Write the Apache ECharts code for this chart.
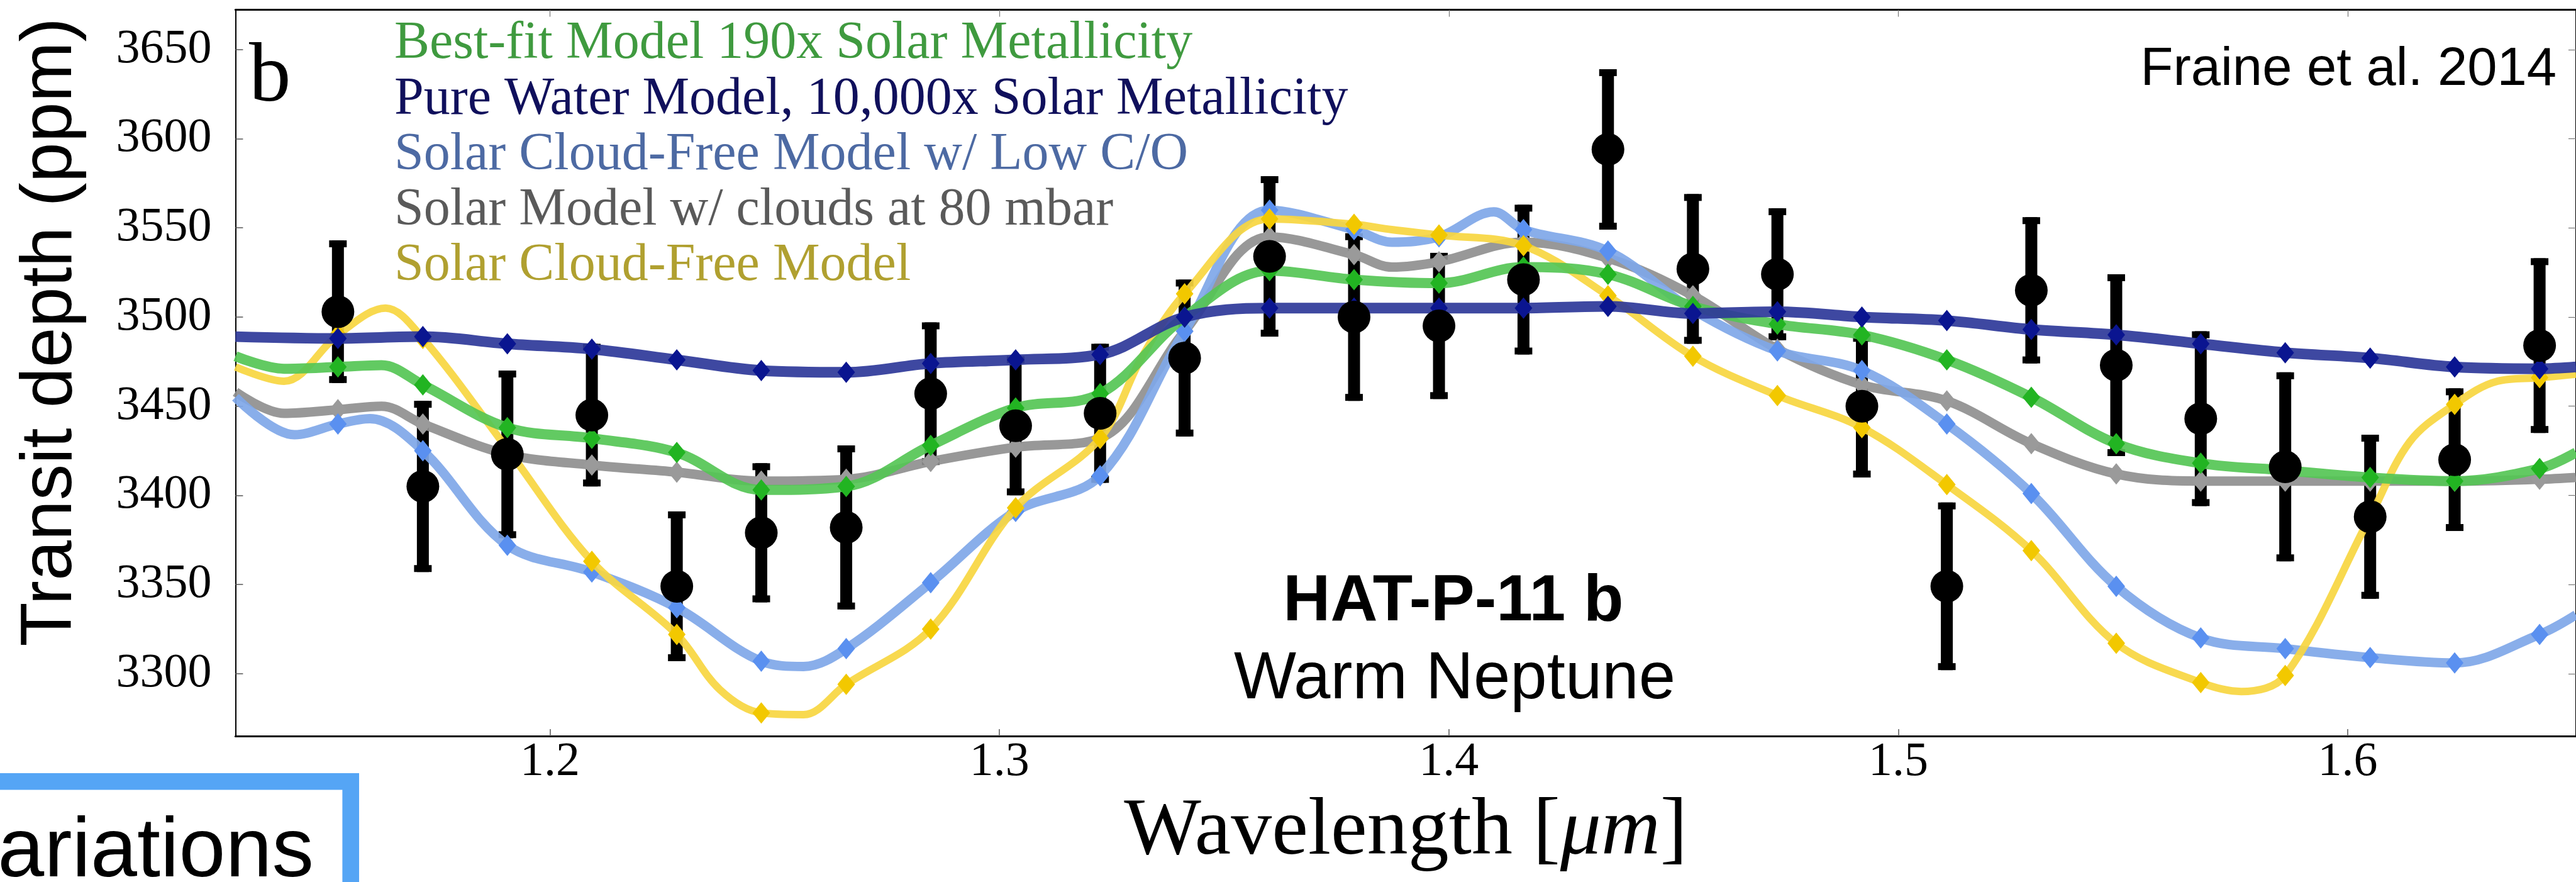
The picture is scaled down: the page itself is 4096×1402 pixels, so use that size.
<!DOCTYPE html>
<html>
<head>
<meta charset="utf-8">
<script src="https://cdn.jsdelivr.net/npm/echarts@6/dist/echarts.min.js"></script>
<style>html,body{margin:0;padding:0;background:#fff;}#c{width:4096px;height:1402px;}</style>
</head>
<body>
<div id="c"></div>
<script>
// ---------- data ----------
const wavelengths = [1.1528, 1.1717, 1.1905, 1.2093, 1.2282, 1.2470, 1.2659, 1.2847, 1.3036, 1.3224, 1.3412, 1.3601, 1.3789, 1.3978, 1.4166, 1.4354, 1.4543, 1.4731, 1.4919, 1.5108, 1.5296, 1.5485, 1.5673, 1.5861, 1.6050, 1.6238, 1.6427];
const transitDepth = [3503, 3405, 3423, 3445, 3349, 3379, 3382, 3457, 3439, 3446, 3477, 3534, 3500, 3495, 3521, 3594, 3527, 3524, 3450, 3349, 3515, 3473, 3443, 3416, 3388, 3420, 3484];
const depthError = [40, 48, 47, 40, 42, 39, 46, 40, 39, 39, 44, 45, 47, 41, 42, 45, 42, 37, 40, 47, 41, 51, 49, 53, 46, 40, 49];

const bestFitModel = [3472, 3462, 3438, 3432, 3424, 3403, 3405, 3428, 3449, 3457, 3500, 3526, 3521, 3519, 3528, 3524, 3506, 3496, 3490, 3476, 3455, 3429, 3418, 3414, 3410, 3408, 3415];
const pureWaterModel = [3488, 3489, 3485, 3482, 3476, 3470, 3469, 3474, 3476, 3479, 3500, 3505, 3505, 3505, 3505, 3506, 3502, 3503, 3500, 3498, 3493, 3490, 3485, 3480, 3477, 3472, 3471];
const lowCOModel = [3440, 3425, 3372, 3357, 3337, 3307, 3314, 3351, 3391, 3411, 3492, 3560, 3549, 3545, 3549, 3537, 3504, 3481, 3470, 3440, 3401, 3349, 3320, 3314, 3309, 3306, 3322];
const cloudsModel = [3448, 3440, 3423, 3417, 3413, 3408, 3409, 3419, 3427, 3432, 3492, 3545, 3535, 3531, 3542, 3533, 3512, 3482, 3462, 3453, 3429, 3412, 3408, 3408, 3408, 3408, 3409];
const cloudFreeModel = [3490, 3488, 3426, 3363, 3322, 3278, 3294, 3325, 3393, 3432, 3513, 3555, 3552, 3546, 3540, 3512, 3478, 3456, 3438, 3406, 3369, 3317, 3295, 3299, 3388, 3451, 3466];

// model curve points between the bins
const bestFitExtra = [[1.1300, 3478], [1.1408, 3471], [1.1625, 3473], [1.6508, 3424]];
const pureWaterExtra = [[1.1300, 3489], [1.6508, 3472]];
const lowCOExtra = [[1.1300, 3455], [1.1431, 3434], [1.1599, 3443], [1.2564, 3304], [1.3873, 3542], [1.4100, 3559], [1.6508, 3333]];
const cloudsExtra = [[1.1300, 3458], [1.1408, 3446], [1.1625, 3450], [1.3873, 3528], [1.6508, 3410]];
const cloudFreeExtra = [[1.1300, 3472], [1.1408, 3464], [1.1634, 3505], [1.2378, 3291], [1.2564, 3277], [1.3318, 3478], [1.3873, 3549], [1.5763, 3290], [1.6138, 3430], [1.6333, 3464], [1.6508, 3468]];

const modelNames = ['Best-fit Model 190x Solar Metallicity', 'Pure Water Model, 10,000x Solar Metallicity', 'Solar Cloud-Free Model w/ Low C/O', 'Solar Model w/ clouds at 80 mbar', 'Solar Cloud-Free Model'];
const xTickValues = [1.2, 1.3, 1.4, 1.5, 1.6];
const yTickValues = [3300, 3350, 3400, 3450, 3500, 3550, 3600, 3650];
const xAxisTitle = 'Wavelength [{i|μm}]';
const yAxisTitle = 'Transit depth (ppm)';
const planetName = 'HAT-P-11 b';
const planetType = 'Warm Neptune';
const citation = 'Fraine et al. 2014';
const panelLetter = 'b';
const boxText = 'ariations';

// ---------- styles ----------
const SERIF = "'Liberation Serif', 'DejaVu Serif', serif";
const SANS = "'Liberation Sans', Arial, sans-serif";
const lineColors = ['#55c655', '#2e3899', '#7fa7e8', '#8f8f8f', '#f7d640'];
const diamondColors = ['#22b422', '#0a1590', '#5a90f0', '#9a9a9a', '#f2c800'];
const legendColors = ['#3f9a3f', '#10105c', '#4d6aa3', '#5a5a5a', '#b0a030'];
const lineWidths = [16, 17, 15, 15, 12];
const zOrder = [6, 7, 4, 3, 5];

function curve(bins, extra) {
  const pts = wavelengths.map((w, i) => ({ value: [w, bins[i]], symbol: 'diamond' }));
  extra.forEach(p => pts.push({ value: p, symbol: 'none' }));
  pts.sort((a, b) => a.value[0] - b.value[0]);
  return pts;
}
const modelBins = [bestFitModel, pureWaterModel, lowCOModel, cloudsModel, cloudFreeModel];
const modelExtras = [bestFitExtra, pureWaterExtra, lowCOExtra, cloudsExtra, cloudFreeExtra];

const X_MIN = 1.13, X_MAX = 1.6508, Y_MIN = 3265, Y_MAX = 3672.3;

const modelSeries = modelNames.map((name, k) => ({
  name: name,
  type: 'line',
  data: curve(modelBins[k], modelExtras[k]),
  smooth: 0.35,
  symbol: 'none',
  symbolSize: [28, 34],
  showAllSymbol: true,
  lineStyle: { color: lineColors[k], width: lineWidths[k], opacity: 0.92 },
  itemStyle: { color: diamondColors[k], opacity: 1 },
  z: zOrder[k],
  silent: true,
  clip: true
}));

function renderErr(params, api) {
  const x = api.value(0), lo = api.value(1), hi = api.value(2);
  const pHi = api.coord([x, hi]);
  const pLo = api.coord([x, lo]);
  const w = 19, cw = 28, ch = 11;
  return {
    type: 'group',
    children: [
      { type: 'rect', shape: { x: pHi[0] - w / 2, y: pHi[1], width: w, height: pLo[1] - pHi[1] }, style: { fill: '#000' } },
      { type: 'rect', shape: { x: pHi[0] - cw / 2, y: pHi[1], width: cw, height: ch }, style: { fill: '#000' } },
      { type: 'rect', shape: { x: pLo[0] - cw / 2, y: pLo[1] - ch, width: cw, height: ch }, style: { fill: '#000' } }
    ]
  };
}

const chart = echarts.init(document.getElementById('c'), null, { renderer: 'canvas' });
const option = {
  animation: false,
  backgroundColor: '#ffffff',
  grid: { left: 374.4, top: 15.6, right: -4, bottom: 232 },
  legend: {
    orient: 'vertical', left: 622, top: 26, padding: 0, itemGap: 0,
    itemWidth: 0, itemHeight: 0, icon: 'none', selectedMode: false,
    textStyle: { fontFamily: SERIF, fontSize: 84, lineHeight: 88.3 },
    data: modelNames.map((n, i) => ({ name: n, icon: 'none', textStyle: { color: legendColors[i], fontFamily: SERIF, fontSize: 84, lineHeight: 88.3 } }))
  },
  xAxis: [
    {
      type: 'value', position: 'bottom', min: X_MIN, max: X_MAX,
      name: xAxisTitle, nameLocation: 'middle', nameGap: 88,
      nameTextStyle: { fontFamily: SERIF, fontSize: 130, lineHeight: 130, color: '#000',
        rich: { i: { fontFamily: SERIF, fontStyle: 'italic', fontSize: 130, lineHeight: 130, color: '#000' } } },
      axisLine: { show: true, lineStyle: { color: '#000', width: 3 } },
      axisTick: { show: true, inside: true, length: 11, customValues: xTickValues, lineStyle: { color: '#555', width: 1.5 } },
      axisLabel: { show: true, customValues: xTickValues, margin: 4, fontFamily: SERIF, fontSize: 76, color: '#000',
        formatter: v => Number(v).toFixed(1) },
      splitLine: { show: false }
    },
    {
      type: 'value', position: 'top', min: X_MIN, max: X_MAX,
      axisLine: { show: true, lineStyle: { color: '#000', width: 3 } },
      axisTick: { show: true, inside: true, length: 11, customValues: xTickValues, lineStyle: { color: '#777', width: 1.2 } },
      axisLabel: { show: false },
      splitLine: { show: false }
    }
  ],
  yAxis: [
    {
      type: 'value', position: 'left', min: Y_MIN, max: Y_MAX,
      name: yAxisTitle, nameLocation: 'middle', nameGap: 236, nameRotate: 90,
      nameTextStyle: { fontFamily: SANS, fontSize: 115, lineHeight: 115, color: '#000', padding: [0, 0, 0, 130] },
      axisLine: { show: true, lineStyle: { color: '#000', width: 2 } },
      axisTick: { show: true, inside: true, length: 12, customValues: yTickValues, lineStyle: { color: '#555', width: 1.5 } },
      axisLabel: { show: true, customValues: yTickValues, margin: 38, fontFamily: SERIF, fontSize: 76, color: '#000',
        formatter: v => String(Math.round(v)) },
      splitLine: { show: false }
    },
    {
      type: 'value', position: 'right', min: Y_MIN, max: Y_MAX,
      axisLine: { show: true, lineStyle: { color: '#000', width: 2 } },
      axisTick: { show: true, inside: true, length: 12, customValues: yTickValues, lineStyle: { color: '#777', width: 1.2 } },
      axisLabel: { show: false },
      splitLine: { show: false }
    }
  ],
  series: [
    {
      name: 'Error bars', type: 'custom', renderItem: renderErr, silent: true, z: 2,
      encode: { x: 0, y: [1, 2] },
      data: wavelengths.map((w, i) => [w, transitDepth[i] - depthError[i], transitDepth[i] + depthError[i]])
    },
    ...modelSeries,
    {
      name: 'HST/WFC3 data', type: 'scatter', symbol: 'circle', symbolSize: 52, silent: true, z: 10,
      itemStyle: { color: '#000', opacity: 1 },
      data: wavelengths.map((w, i) => [w, transitDepth[i]])
    }
  ],
  graphic: [
    { type: 'text', x: 396, y: 125, z: 20, style: { text: panelLetter, font: '133px ' + SERIF, fill: '#000', align: 'left', verticalAlign: 'middle', textAlign: 'left', textVerticalAlign: 'middle' } },
    { type: 'text', x: 4065, y: 111.5, z: 20, style: { text: citation, font: '85px ' + SANS, fill: '#000', align: 'right', verticalAlign: 'middle', textAlign: 'right', textVerticalAlign: 'middle' } },
    { type: 'text', x: 2311, y: 957, z: 20, style: { text: planetName, font: 'bold 104px ' + SANS, fill: '#000', align: 'center', verticalAlign: 'middle', textAlign: 'center', textVerticalAlign: 'middle' } },
    { type: 'text', x: 2313, y: 1081, z: 20, style: { text: planetType, font: '105px ' + SANS, fill: '#000', align: 'center', verticalAlign: 'middle', textAlign: 'center', textVerticalAlign: 'middle' } },
    { type: 'rect', z: 20, shape: { x: -60, y: 1242.3, width: 617.7, height: 300 }, style: { fill: 'rgba(0,0,0,0)', stroke: '#55a5f5', lineWidth: 26.6 } },
    { type: 'text', x: 499, y: 1356, z: 21, style: { text: boxText, font: '133px ' + SANS, fill: '#000', align: 'right', verticalAlign: 'middle', textAlign: 'right', textVerticalAlign: 'middle' } }
  ]
};
chart.setOption(option);
</script>
</body>
</html>
